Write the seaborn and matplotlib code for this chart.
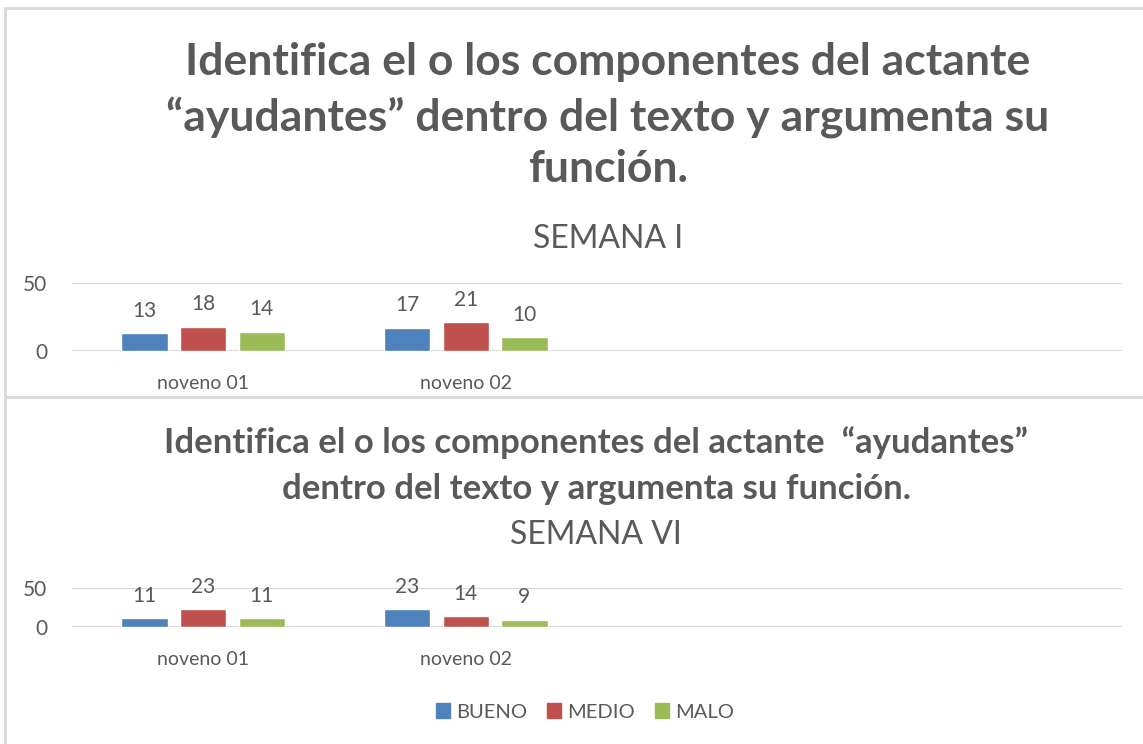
import matplotlib.pyplot as plt
import matplotlib.patches as mpatches
import pandas as pd
import seaborn as sns

# datos de las dos semanas
cursos = ['noveno 01', 'noveno 02']
niveles = ['BUENO', 'MEDIO', 'MALO']
semana1 = {'BUENO': [13, 17], 'MEDIO': [18, 21], 'MALO': [14, 10]}
semana6 = {'BUENO': [11, 23], 'MEDIO': [23, 14], 'MALO': [11, 9]}
yticks = [0, 50]

titulo1 = ['Identifica el o los componentes del actante',
           '\u201cayudantes\u201d dentro del texto y argumenta su',
           'funci\u00f3n.']
sub1 = 'SEMANA I'
titulo2 = ['Identifica el o los componentes del actante  \u201cayudantes\u201d',
           'dentro del texto y argumenta su funci\u00f3n.']
sub2 = 'SEMANA VI'

colores = {'BUENO': '#4F81BD', 'MEDIO': '#C0504D', 'MALO': '#9BBB59'}
gris = '#595959'

sns.set_theme(style='white')
plt.rcParams['font.family'] = ['Lato', 'DejaVu Sans']

W, H = 1143, 744
fig = plt.figure(figsize=(W / 100, H / 100), dpi=100)


def px(x, y):
    return x / W, 1 - y / H


def to_long(d):
    filas = []
    for nv in niveles:
        for c, v in zip(cursos, d[nv]):
            filas.append({'curso': c, 'nivel': nv, 'valor': v})
    return pd.DataFrame(filas)


def panel(rect, datos):
    ax = fig.add_axes(rect)
    df = to_long(datos)
    sns.barplot(data=df, x='curso', y='valor', hue='nivel', order=cursos,
                hue_order=niveles, palette=colores, width=0.67, gap=0.21,
                ax=ax, legend=False, saturation=1, errorbar=None)
    for cont in ax.containers:
        ax.bar_label(cont, padding=9, fontsize=15, color=gris)
    ax.set_ylim(0, 50)
    # el eje de Excel reserva sitio para 4 categorias
    ax.set_xlim(-0.5, 3.5)
    ax.set_yticks(yticks)
    ax.yaxis.grid(True, color='#D9D9D9', lw=1.5)
    ax.set_axisbelow(True)
    for s in ax.spines.values():
        s.set_visible(False)
    ax.tick_params(axis='y', length=0, pad=18, labelsize=15, labelcolor=gris)
    ax.tick_params(axis='x', length=0, pad=17, labelsize=14, labelcolor=gris)
    ax.set_xlabel('')
    ax.set_ylabel('')
    return ax


# panel superior: 0 en y=351, 50 en y=283
panel([72 / W, 1 - 351 / H, 1050 / W, 68 / H], semana1)
# panel inferior: 0 en y=627, 50 en y=588
panel([72 / W, 1 - 627 / H, 1050 / W, 39 / H], semana6)

# titulos
for txt, yb in zip(titulo1, [75, 130, 182]):
    fig.text(*px(608, yb), txt, ha='center', va='baseline', fontsize=32,
             fontweight='bold', color=gris)
fig.text(*px(608, 248), sub1, ha='center', va='baseline', fontsize=23, color=gris)
for txt, yb in zip(titulo2, [453, 499]):
    fig.text(*px(596, yb), txt, ha='center', va='baseline', fontsize=25,
             fontweight='bold', color=gris)
fig.text(*px(596, 544), sub2, ha='center', va='baseline', fontsize=23, color=gris)

# bordes de los graficos
borde = '#D9D9D9'
fig.add_artist(plt.Line2D([5 / W, 1], [1 - 8 / H] * 2, color=borde, lw=2))
fig.add_artist(plt.Line2D([5 / W, 1], [1 - 397 / H] * 2, color=borde, lw=2))
fig.add_artist(plt.Line2D([5 / W] * 2, [1 - 8 / H, 0], color=borde, lw=2))

# leyenda
handles = [mpatches.Patch(color=colores[n], label=n) for n in niveles]
fig.legend(handles=handles, loc='center', bbox_to_anchor=px(585, 712),
           ncol=3, frameon=False, fontsize=14.5, labelcolor=gris,
           handlelength=0.7, handleheight=0.7, handletextpad=0.3,
           columnspacing=1.0)

fig.savefig('out.png', dpi=100)
